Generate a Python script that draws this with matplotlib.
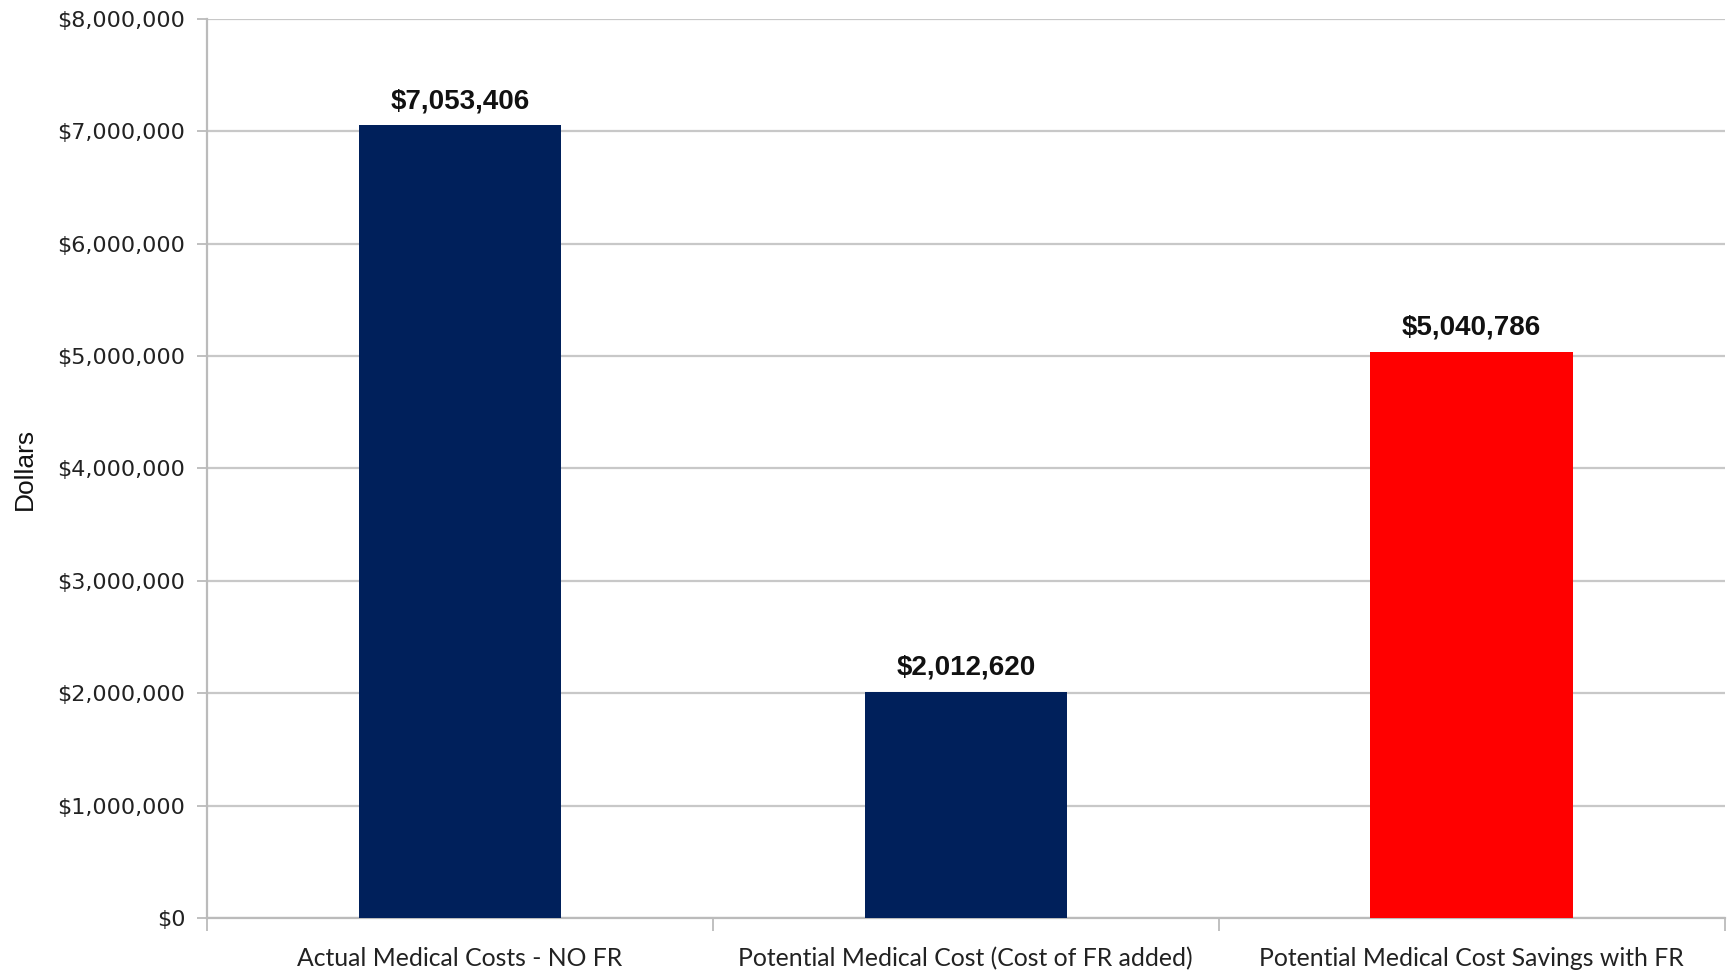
import matplotlib
matplotlib.use("Agg")
import matplotlib.pyplot as plt
from matplotlib.ticker import FuncFormatter, FixedLocator

categories = ["Actual Medical Costs - NO FR",
              "Potential Medical Cost (Cost of FR added)",
              "Potential Medical Cost Savings with FR"]
values = [7053406, 2012620, 5040786]
bar_colors = ["#00205B", "#00205B", "#FF0000"]
y_ticks = [0, 1000000, 2000000, 3000000, 4000000, 5000000, 6000000, 7000000, 8000000]

fig = plt.figure(figsize=(17.28, 9.73), dpi=100)
ax = fig.add_axes([0.1198, 0.0565, 0.8782, 0.924])

x = list(range(len(categories)))
bars = ax.bar(x, values, width=0.4, color=bar_colors, zorder=3)

ax.set_xlim(-0.5, 2.5)
ax.set_ylim(0, 8000000)
ax.set_yticks(y_ticks)
ax.yaxis.set_major_formatter(FuncFormatter(lambda v, p: "${:,.0f}".format(v)))
ax.grid(axis="y", color="#C8C8C8", linewidth=1.6, zorder=0)

ax.set_xticks(x)
ax.set_xticklabels(categories, fontfamily="Lato", fontsize=17.8, color="#222222")
ax.tick_params(axis="x", which="major", length=0, pad=21)
ax.xaxis.set_minor_locator(FixedLocator([-0.5, 0.5, 1.5, 2.5]))
ax.tick_params(axis="x", which="minor", length=9, width=1.3, color="#BBBBBB")

ax.tick_params(axis="y", length=7, width=1.3, color="#BBBBBB", pad=8.5)
for lab in ax.get_yticklabels():
    lab.set_fontfamily("DejaVu Sans")
    lab.set_fontsize(16)
    lab.set_color("#222222")

for s in ["top", "right"]:
    ax.spines[s].set_visible(False)
ax.spines["left"].set_color("#BBBBBB")
ax.spines["left"].set_linewidth(1.6)
ax.spines["bottom"].set_color("#BBBBBB")
ax.spines["bottom"].set_linewidth(1.6)

ax.set_ylabel("Dollars", fontfamily="Liberation Sans", fontsize=19, color="#111111")
ax.yaxis.set_label_coords(-0.112, 0.5)

for xi, v in zip(x, values):
    ax.annotate("${:,.0f}".format(v), (xi, v), xytext=(0, 8), textcoords="offset points",
                ha="center", va="bottom", fontfamily="Liberation Sans",
                fontweight="bold", fontsize=20, color="#111111")

fig.savefig("out.png", dpi=100, facecolor="white")
